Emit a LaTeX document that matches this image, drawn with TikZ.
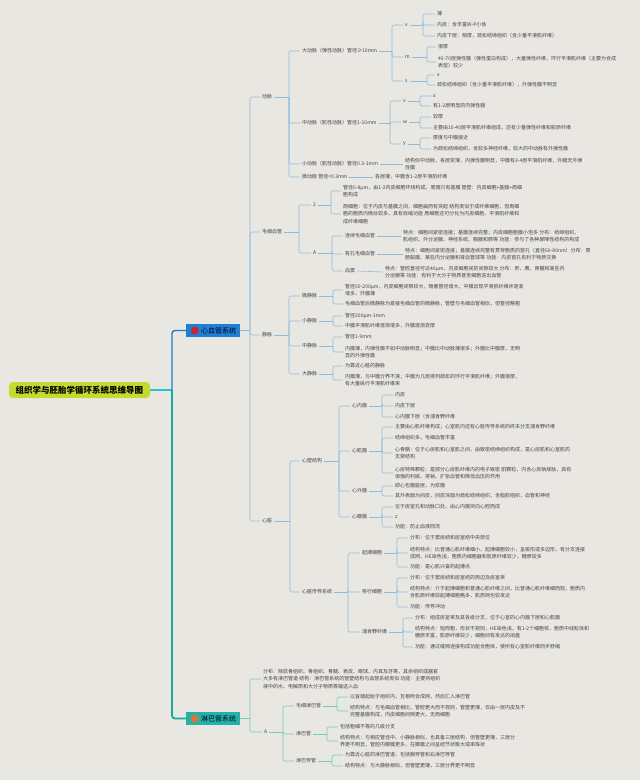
\documentclass[tikz,border=0pt]{standalone}
\usepackage{fontspec}
\setmainfont{Noto Sans CJK SC}
\definecolor{bg}{HTML}{E9E7E2}
\definecolor{lb}{HTML}{8DBBE0}
\definecolor{lt}{HTML}{72C9BF}
\definecolor{tx}{HTML}{444444}
\definecolor{rootc}{HTML}{C4DA2E}
\definecolor{cvb}{HTML}{1F80D2}
\definecolor{lyb}{HTML}{25B2A6}
\definecolor{mainb}{HTML}{1C7CCB}
\definecolor{maint}{HTML}{1AA9A0}
\definecolor{rootl}{HTML}{22C6CB}
\definecolor{iconr}{HTML}{C8262A}
\definecolor{icono}{HTML}{D9773A}
\tikzset{
  t/.style={anchor=west, inner xsep=2pt, inner ysep=0.5pt, font=\fontsize{5}{7.5}\selectfont, text=tx, align=left},
  conn/.style={line width=0.6pt},
  rootbox/.style={fill=rootc, rounded corners=4pt, minimum width=141pt, minimum height=16pt, inner sep=0pt, font=\fontsize{8.5}{10}\selectfont\bfseries, text=black},
  sysbox/.style={minimum width=54pt, minimum height=13pt, inner sep=0pt, font=\fontsize{7}{8}\selectfont, text=black!85!blue},
}
\newcommand\brk[4][lb]{%
  \coordinate (tmpx) at (#3,0);
  \draw[conn,#1] (#2.east) -- (#2.east -| tmpx);
  \foreach \kid in {#4}{\draw[conn,#1,rounded corners=2pt] (#2.east -| tmpx) |- (\kid.west);}%
}
\begin{document}
\begin{tikzpicture}[x=1pt,y=-1pt]
\fill[bg] (0,0) rectangle (640,780);
\useasboundingbox (0,0) rectangle (640,780);

% root and systems
\node[rootbox] (root) at (79.5,390) {组织学与胚胎学循环系统思维导图};
\node[sysbox, fill=cvb] (cv) at (213,330.5) {\hspace{11pt}心血管系统};
\node[sysbox, fill=lyb] (ly) at (213,718.5) {\hspace{11pt}淋巴管系统};
\fill[iconr] ([xshift=9pt]cv.west) circle (4pt);
\fill[icono] ([xshift=9pt]ly.west) circle (4pt);
\coordinate (hub) at (172,390);
\draw[line width=1.4pt, rootl] (root.east) -- (hub);
\draw[line width=1.4pt, mainb, rounded corners=3pt] (hub) |- (cv.west);
\draw[line width=1.8pt, maint, rounded corners=3pt] (hub) |- (ly.west);

% level 1
\node[t] (ar) at (260,97) {动脉};
\node[t] (cap) at (260,232) {毛细血管};
\node[t] (vn) at (260,335) {静脉};
\node[t] (ht) at (260,521) {心脏};
\brk{cv}{250}{ar,cap,vn,ht}

% arteries
\node[t] (a1) at (300,51) {大动脉（弹性动脉）管径≥10mm};
\node[t] (a2) at (300,123) {中动脉（肌性动脉）管径1-10mm};
\node[t] (a3) at (300,164) {小动脉（肌性动脉）管径0.3-1mm};
\node[t] (a4) at (300,177) {微动脉 管径<0.3mm};
\brk{ar}{289}{a1,a2,a3,a4}

\node[t] (a1v) at (403,25) {v};
\node[t] (a1m) at (403,57) {m};
\node[t] (a1s) at (403,81) {s};
\brk{a1}{392}{a1v,a1m,a1s}
\node[t] (a1v1) at (435,14) {薄};
\node[t] (a1v2) at (435,25) {内皮：含丰富W-P小体};
\node[t] (a1v3) at (435,36) {内皮下层：稍厚，疏松结缔组织（含少量平滑肌纤维）};
\brk{a1v}{423}{a1v1,a1v2,a1v3}
\node[t] (a1m1) at (436,47) {很厚};
\node[t] (a1m2) at (436,62) {40-70层弹性膜（弹性蛋白构成），大量弹性纤维，环行平滑肌纤维（主要为合成\\表型）较少};
\brk{a1m}{427}{a1m1,a1m2}
\node[t] (a1s1) at (435,75) {x};
\node[t] (a1s2) at (435,85) {疏松结缔组织（含少量平滑肌纤维），外弹性膜不明显};
\brk{a1s}{427}{a1s1,a1s2}

\node[t] (a2v) at (401,101) {v};
\node[t] (a2w) at (401,122) {w};
\node[t] (a2y) at (401,144) {y};
\brk{a2}{390}{a2v,a2w,a2y}
\node[t] (a2v1) at (431,96) {x};
\node[t] (a2v2) at (431,106) {有1-2层明显的内弹性膜};
\brk{a2v}{420}{a2v1,a2v2}
\node[t] (a2w1) at (431,117) {较厚};
\node[t] (a2w2) at (431,128) {主要由10-40层平滑肌纤维组成，还有少量弹性纤维和胶原纤维};
\brk{a2w}{420}{a2w1,a2w2}
\node[t] (a2y1) at (431,138) {厚度与中膜接近};
\node[t] (a2y2) at (431,149) {为疏松结缔组织，含较多神经纤维，较大的中动脉有外弹性膜};
\brk{a2y}{420}{a2y1,a2y2}

\node[t] (a3t) at (403,164) {结构似中动脉，各层变薄，内弹性膜明显，中膜有3-4层平滑肌纤维，外膜无外弹\\性膜};
\draw[conn,lb] (a3.east) -- (a3t.west);
\node[t] (a4t) at (373,177) {各层薄，中膜含1-2层平滑肌纤维};
\draw[conn,lb] (a4.east) -- (a4t.west);

% capillaries
\node[t] (c2) at (311,205) {2};
\node[t] (cA) at (311,253) {A};
\brk{cap}{299}{c2,cA}
\node[t] (c21) at (341,191) {管径6-8μm，由1-2内皮细胞环绕构成，周围只有基膜 管壁：内皮细胞+基膜+周细\\胞构成};
\node[t] (c22) at (341,214) {周细胞：位于内皮与基膜之间，细胞扁而有突起 结构类似于成纤维细胞，但周细\\胞的胞质内微丝较多，具有收缩功能 周细胞还可分化为内皮细胞、平滑肌纤维和\\成纤维细胞};
\brk{c2}{331}{c21,c22}
\node[t] (cA1) at (343,236) {连续毛细血管};
\node[t] (cA2) at (343,254) {有孔毛细血管};
\node[t] (cA3) at (343,271) {血窦};
\brk{cA}{332}{cA1,cA2,cA3}
\node[t] (cA1t) at (401,236) {特点：细胞间紧密连接；基膜连续完整；内皮细胞胞膜小泡多 分布：结缔组织、\\肌组织、外分泌腺、神经系统、胸腺和肺等 功能：参与了各种屏障性结构的构成};
\node[t] (cA2t) at (403,254) {特点：细胞间紧密连接；基膜连续完整有贯穿胞质的窗孔（直径60-80nm）分布：胃\\肠黏膜、某些内分泌腺和肾血管球等 功能：内皮窗孔有利于物质交换};
\node[t] (cA3t) at (383,272) {特点：管腔直径可达40μm，内皮细胞间的间隙较大 分布：肝、脾、骨髓和某些内\\分泌腺等 功能：有利于大分子物质甚至细胞进出血管};
\draw[conn,lb] (cA1.east) -- (cA1t.west);
\draw[conn,lb] (cA2.east) -- (cA2t.west);
\draw[conn,lb] (cA3.east) -- (cA3t.west);

% veins
\node[t] (v1) at (300,296) {微静脉};
\node[t] (v2) at (300,321) {小静脉};
\node[t] (v3) at (300,346) {中静脉};
\node[t] (v4) at (300,374) {大静脉};
\brk{vn}{289}{v1,v2,v3,v4}
\node[t] (v11) at (343,290) {管径50-200μm，内皮细胞间隙较大，随着管径增大，中膜出现平滑肌纤维并逐渐\\增多，外膜薄};
\node[t] (v12) at (343,304) {毛细血管后微静脉为紧接毛细血管的微静脉，管壁与毛细血管相似，但管径略粗};
\brk{v1}{333}{v11,v12}
\node[t] (v21) at (343,316) {管径200μm-1mm};
\node[t] (v22) at (343,326) {中膜平滑肌纤维逐渐增多，外膜逐渐变厚};
\brk{v2}{333}{v21,v22}
\node[t] (v31) at (343,337) {管径1-9mm};
\node[t] (v32) at (343,352) {内膜薄，内弹性膜不如中动脉明显；中膜比中动脉薄很多；外膜比中膜厚，无明\\显的外弹性膜};
\brk{v3}{333}{v31,v32}
\node[t] (v41) at (343,366) {为靠近心脏的静脉};
\node[t] (v42) at (343,380) {内膜薄，与中膜分界不清；中膜为几层排列疏松的环行平滑肌纤维；外膜很厚，\\有大量纵行平滑肌纤维束};
\brk{v4}{333}{v41,v42}

% heart
\node[t] (h1) at (300,461) {心壁结构};
\node[t] (h2) at (300,592) {心脏传导系统};
\brk{ht}{290}{h1,h2}
\node[t] (h11) at (350,406) {心内膜};
\node[t] (h12) at (350,451) {心肌膜};
\node[t] (h13) at (350,491) {心外膜};
\node[t] (h14) at (350,517) {心瓣膜};
\brk{h1}{339}{h11,h12,h13,h14}
\node[t] (h111) at (393,395) {内皮};
\node[t] (h112) at (393,406) {内皮下层};
\node[t] (h113) at (393,417) {心内膜下层（含浦肯野纤维};
\brk{h11}{382}{h111,h112,h113}
\node[t] (h121) at (393,427) {主要由心肌纤维构成；心室肌内还有心脏传导系统的终末分支浦肯野纤维};
\node[t] (h122) at (393,438) {结缔组织多，毛细血管丰富};
\node[t] (h123) at (393,453) {心骨骼：位于心房肌和心室肌之间，由致密结缔组织构成，是心房肌和心室肌的\\支架结构};
\node[t] (h124) at (393,473) {心房特殊颗粒：是部分心房肌纤维内的电子致密 肌颗粒，内含心房钠尿肽，具有\\很强的利尿、排钠、扩张血管和降低血压的作用};
\brk{h12}{382}{h121,h122,h123,h124}
\node[t] (h131) at (393,486) {即心包膜脏层，为浆膜};
\node[t] (h132) at (393,496) {其外表面为间皮，间皮深面为疏松结缔组织，含脂肪组织，血管和神经};
\brk{h13}{382}{h131,h132}
\node[t] (h141) at (393,507) {位于房室孔和动脉口处，由心内膜突向心腔而成};
\node[t] (h142) at (393,517) {z};
\node[t] (h143) at (393,527) {功能：防止血液回流};
\brk{h14}{382}{h141,h142,h143}

\node[t] (h21) at (360,553) {起搏细胞};
\node[t] (h22) at (360,592) {移行细胞};
\node[t] (h23) at (360,632) {浦肯野纤维};
\brk{h2}{348}{h21,h22,h23}
\node[t] (h211) at (408,538) {分布：位于窦房结和房室结中央部位};
\node[t] (h212) at (408,553) {结构特点：比普通心肌纤维细小，起搏细胞较小，呈梭形或多边形，有分支连接\\成网，HE染色浅，胞质内细胞器和肌原纤维较少，糖原较多};
\node[t] (h213) at (408,567) {功能：是心肌兴奋的起搏点};
\brk{h21}{397}{h211,h212,h213}
\node[t] (h221) at (408,578) {分布：位于窦房结和房室结的周边及房室束};
\node[t] (h222) at (408,592) {结构特点：介于起搏细胞和普通心肌纤维之间，比普通心肌纤维细而短，胞质内\\含肌原纤维较起搏细胞略多，肌质网也较发达};
\node[t] (h223) at (408,607) {功能：传导冲动};
\brk{h22}{397}{h221,h222,h223}
\node[t] (h231) at (413,618) {分布：组成房室束及其各级分支，位于心室的心内膜下层和心肌膜};
\node[t] (h232) at (413,632) {结构特点：短而粗，形状不规则，HE染色浅，有1-2个细胞核，胞质中线粒体和\\糖原丰富，肌原纤维较少，细胞间有发达的闰盘};
\node[t] (h233) at (413,647) {功能：通过缝隙连接构成功能合胞体，使所有心室肌纤维同步舒缩};
\brk{h23}{403}{h231,h232,h233}

% lymphatic
\node[t] (l1) at (261,679) {分布：除软骨组织、骨组织、骨髓、表皮、眼球、内耳及牙等，其余组织或器官\\大多有淋巴管道 结构：淋巴管系统的管壁结构与血管系统类似 功能：主要将组织\\液中的水、电解质和大分子物质等输送入血};
\node[t] (lA) at (262,732) {A};
\brk[lt]{ly}{250}{l1,lA}
\node[t] (lA1) at (294,706) {毛细淋巴管};
\node[t] (lA2) at (294,734) {淋巴管};
\node[t] (lA3) at (294,761) {淋巴导管};
\brk[lt]{lA}{283}{lA1,lA2,lA3}
\node[t] (l11) at (348,697) {以盲端起始于组织内，互相吻合成网，然后汇入淋巴管};
\node[t] (l12) at (348,711) {结构特点：与毛细血管相比，管腔更大而不规则，管壁更薄，仅由一层内皮及不\\完整基膜构成，内皮细胞间隙更大，无周细胞};
\brk[lt]{lA1}{337}{l11,l12}
\node[t] (l21) at (338,727) {包括粗细不等的几级分支};
\node[t] (l22) at (338,741) {结构特点：与相应管径中、小静脉相似，也具备三层结构，但管壁更薄，三层分\\界更不明显，管腔内瓣膜更多，在瓣膜之间呈结节状膨大或串珠状};
\brk[lt]{lA2}{327}{l21,l22}
\node[t] (l31) at (343,755) {为靠近心脏的淋巴管道，包括胸导管和右淋巴导管};
\node[t] (l32) at (343,766) {结构特点：与大静脉相似，但管壁更薄，三层分界更不明显};
\brk[lt]{lA3}{332}{l31,l32}
\end{tikzpicture}
\end{document}
